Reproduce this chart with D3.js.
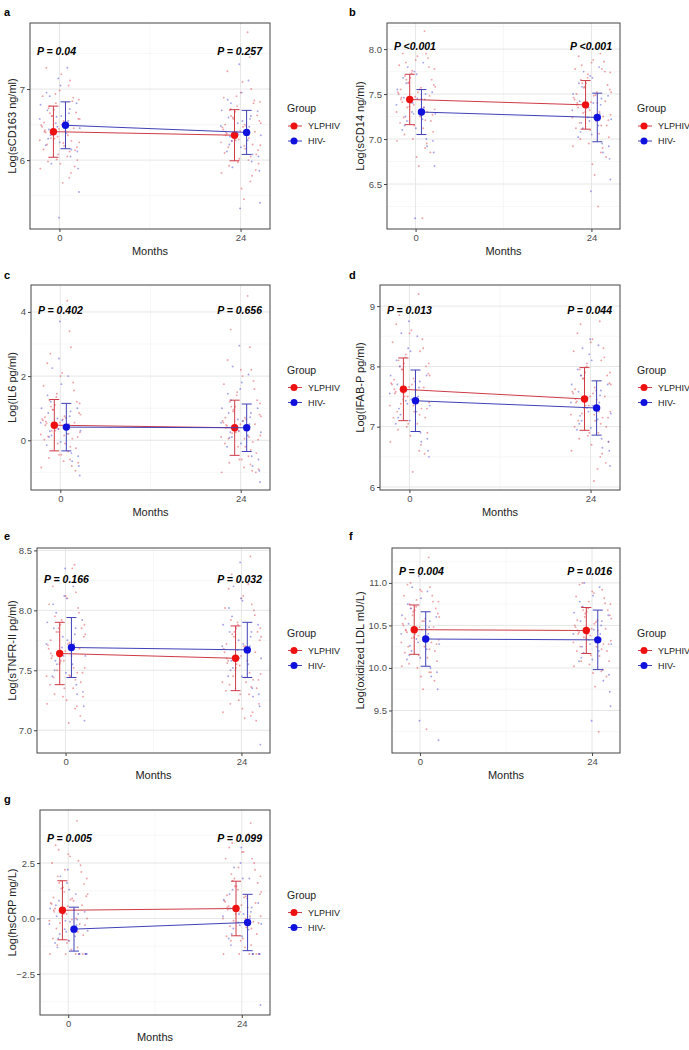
<!DOCTYPE html>
<html><head><meta charset="utf-8">
<script src="https://cdn.jsdelivr.net/npm/d3@7"></script>
<style>body{margin:0;background:#fff} svg{display:block} text{font-family:"Liberation Sans",Arial,sans-serif}</style>
</head><body>
<svg id="c" width="689" height="1050"></svg>
<script>
// ---------- data ----------
const panelLetters = ["a","b","c","d","e","f","g"];
const yTitles = ["Log(sCD163 ng/ml)","Log(sCD14 ng/ml)","Log(IL6 pg/ml)","Log(IFAB-P pg/ml)","Log(sTNFR-II pg/ml)","Log(oxidized LDL mU/L)","Log(hsCRP mg/L)"];
const months = [0, 24];
const groups = ["YLPHIV","HIV-"];
const pMonth0 = ["P = 0.04","P <0.001","P = 0.402","P = 0.013","P = 0.166","P = 0.004","P = 0.005"];
const pMonth24 = ["P = 0.257","P <0.001","P = 0.656","P = 0.044","P = 0.032","P = 0.016","P = 0.099"];
const yTicks = [[6,7],[6.5,7.0,7.5,8.0],[0,2,4],[6,7,8,9],[7.0,7.5,8.0,8.5],[9.5,10.0,10.5,11.0],[-2.5,0.0,2.5]];
const yTickFormats = ["d",".1f","d","d",".1f",".1f",".1f"];
const yRange = [[5.03,7.93],[6.0,8.29],[-1.55,4.84],[5.95,9.35],[6.81,8.52],[9.0,11.41],[-4.35,4.89]];
const meanYLPHIV = [[6.40,6.35],[7.44,7.38],[0.47,0.39],[7.62,7.46],[7.64,7.60],[10.45,10.44],[0.37,0.45]];
const sdYLPHIV   = [[0.36,0.36],[0.28,0.27],[0.80,0.86],[0.52,0.52],[0.26,0.27],[0.29,0.27],[1.33,1.23]];
const meanHIV    = [[6.49,6.39],[7.30,7.24],[0.41,0.39],[7.43,7.31],[7.69,7.67],[10.34,10.33],[-0.48,-0.18]];
const sdHIV      = [[0.33,0.31],[0.25,0.27],[0.74,0.74],[0.51,0.45],[0.25,0.23],[0.32,0.35],[0.99,1.27]];

// individual observations (approximate reading), [month 0, month 24] per panel
const obsYLPHIV = [
 [[6.40,6.12,6.71,6.25,6.55,5.98,6.88,6.33,6.47,6.05,6.62,6.18,7.21,6.39,5.82,6.93,6.28,6.51,6.76,5.91,6.44,6.15,7.05,6.36,6.58,5.68,6.22,6.83,6.01,6.49,7.48,6.31,6.67,5.95,6.42,7.12],
  [6.35,6.05,6.68,6.21,6.50,5.92,6.84,6.29,6.43,6.00,6.60,6.14,7.10,6.37,5.78,6.90,6.25,6.48,6.72,5.86,6.41,6.10,7.45,6.33,6.55,5.45,6.18,6.80,5.97,6.46,7.80,6.27,6.63,5.60,6.39,7.00]],
 [[7.44,7.21,7.68,7.33,7.55,7.05,7.80,7.38,7.50,7.12,7.62,7.27,7.92,7.41,6.95,7.73,7.30,7.57,7.85,6.85,7.47,7.18,8.20,7.36,7.60,6.70,7.24,7.90,7.00,7.52,6.12,7.35,7.66,6.80,7.46,7.95],
  [7.38,7.15,7.62,7.27,7.49,7.00,7.75,7.32,7.44,7.06,7.57,7.21,7.88,7.35,6.90,7.68,7.24,7.52,7.82,6.80,7.41,7.12,7.95,7.30,7.55,6.60,7.18,7.86,6.95,7.46,6.25,7.29,7.60,6.72,7.40,7.78]],
 [[0.47,-0.20,1.10,0.25,0.75,-0.55,1.55,0.35,0.62,-0.35,0.95,0.10,2.10,0.52,-0.80,1.35,0.18,0.70,2.70,-0.95,0.55,0.02,3.40,0.40,0.85,-0.65,0.12,1.80,-0.10,0.66,4.35,0.30,1.20,-0.45,0.58,2.90],
  [0.39,-0.30,1.05,0.15,0.70,-0.70,1.60,0.28,0.55,-0.50,0.90,0.02,2.00,0.45,-0.95,1.40,0.10,0.65,3.45,-1.00,0.50,-0.10,2.90,0.33,0.80,-0.85,0.05,1.85,-0.20,0.60,4.50,0.22,1.25,-0.60,0.48,2.20]],
 [[7.62,7.20,8.05,7.40,7.80,6.95,8.30,7.50,7.70,7.05,7.95,7.30,8.60,7.58,6.70,8.15,7.35,7.75,8.85,6.55,7.66,7.15,9.20,7.45,7.88,6.25,7.25,8.45,7.00,7.72,8.95,7.38,8.00,6.85,7.55,8.25],
  [7.46,7.05,7.90,7.25,7.65,6.80,8.15,7.35,7.55,6.90,7.80,7.15,8.45,7.42,6.55,8.00,7.20,7.60,8.70,6.40,7.50,7.00,8.75,7.30,7.72,6.10,7.10,8.30,6.85,7.58,6.30,7.22,7.85,6.70,7.40,8.10]],
 [[7.64,7.42,7.88,7.52,7.73,7.30,7.98,7.58,7.68,7.35,7.82,7.48,8.10,7.62,7.20,7.92,7.45,7.70,8.25,7.12,7.66,7.38,8.38,7.55,7.78,7.06,7.44,8.02,7.28,7.71,8.35,7.50,7.85,7.25,7.60,8.15],
  [7.60,7.36,7.85,7.47,7.70,7.22,7.96,7.54,7.65,7.30,7.78,7.42,8.12,7.58,7.15,7.90,7.40,7.67,8.30,7.08,7.62,7.33,8.45,7.50,7.75,7.10,7.38,8.00,7.25,7.68,8.22,7.45,7.82,7.18,7.56,8.05]],
 [[10.45,10.22,10.68,10.33,10.55,10.05,10.78,10.38,10.50,10.12,10.62,10.28,10.90,10.42,9.95,10.72,10.30,10.58,11.00,9.85,10.48,10.18,11.30,10.36,10.64,9.75,10.25,10.85,10.00,10.52,9.28,10.35,10.70,9.90,10.44,10.95],
  [10.44,10.22,10.66,10.32,10.54,10.08,10.76,10.38,10.48,10.14,10.60,10.28,10.88,10.42,9.98,10.70,10.30,10.56,11.00,9.90,10.46,10.20,11.15,10.35,10.62,9.78,10.25,10.82,10.04,10.50,9.25,10.36,10.68,9.94,10.40,10.92]],
 [[0.37,-0.60,1.40,0.00,0.90,-1.20,2.10,0.20,0.65,-1.60,1.70,-0.30,2.80,0.45,-1.60,1.20,-0.10,0.80,3.10,-1.60,0.55,-0.90,4.40,0.10,1.00,-1.40,-0.45,2.40,-1.60,0.70,3.60,-0.20,1.55,-1.00,0.30,2.60],
  [0.50,-0.45,1.45,0.10,1.00,-1.00,2.20,0.30,0.75,-1.60,1.80,-0.20,3.00,0.55,-1.60,1.30,0.00,0.90,3.40,-1.60,0.60,-0.80,4.30,0.20,1.10,-1.30,-0.35,2.50,-1.60,0.80,3.80,-0.10,1.60,-0.90,0.40,2.70]]
];
const obsYLPHIVmore = [
 [[6.30,6.58,6.20,6.73,6.45,6.08,6.90,6.35,6.62,6.00,6.50,7.30,6.27,6.80,5.88,6.41,6.66,6.14,6.98,6.53,5.75,6.37,6.85,6.24],
  [6.28,6.52,6.16,6.70,6.40,6.02,6.88,6.31,6.58,5.95,6.47,7.25,6.22,6.76,5.82,6.36,6.62,6.08,6.95,6.50,5.70,6.33,6.82,6.20]],
 [[7.40,7.58,7.25,7.70,7.48,7.15,7.82,7.35,7.63,7.08,7.52,7.95,7.30,7.76,6.98,7.45,7.66,7.20,7.88,7.55,6.90,7.42,7.78,7.28],
  [7.35,7.52,7.20,7.66,7.42,7.10,7.78,7.30,7.58,7.02,7.48,7.92,7.25,7.72,6.92,7.40,7.62,7.15,7.85,7.50,6.85,7.37,7.74,7.22]],
 [[0.30,0.80,-0.10,1.25,0.55,-0.45,1.70,0.20,0.95,-0.70,0.65,2.40,0.05,1.45,-0.85,0.42,1.05,-0.25,2.00,0.72,-0.60,0.38,1.15,0.15],
  [0.25,0.75,-0.20,1.20,0.50,-0.60,1.75,0.10,0.95,-0.90,0.60,2.50,-0.05,1.50,-1.00,0.35,1.05,-0.40,2.20,0.70,-0.75,0.30,1.15,0.05]],
 [[7.50,7.85,7.25,8.10,7.65,7.05,8.40,7.40,7.95,6.90,7.70,8.70,7.30,8.20,6.75,7.60,8.00,7.15,8.55,7.78,6.60,7.55,8.05,7.35],
  [7.35,7.70,7.10,7.95,7.50,6.90,8.25,7.25,7.80,6.75,7.55,8.55,7.15,8.05,6.60,7.45,7.85,7.00,8.40,7.62,6.50,7.40,7.90,7.20]],
 [[7.58,7.80,7.45,7.95,7.68,7.35,8.05,7.52,7.85,7.28,7.72,8.20,7.48,7.90,7.22,7.62,7.82,7.40,8.12,7.75,7.18,7.56,7.88,7.46],
  [7.55,7.78,7.40,7.92,7.65,7.30,8.02,7.48,7.82,7.22,7.70,8.18,7.42,7.88,7.15,7.58,7.80,7.35,8.10,7.72,7.12,7.52,7.85,7.44]],
 [[10.40,10.60,10.25,10.75,10.48,10.15,10.85,10.35,10.66,10.08,10.55,10.98,10.30,10.80,10.02,10.45,10.70,10.20,10.92,10.58,9.95,10.42,10.78,10.32],
  [10.40,10.58,10.25,10.72,10.46,10.15,10.84,10.34,10.64,10.08,10.52,10.98,10.28,10.78,10.02,10.44,10.68,10.20,10.90,10.56,9.96,10.42,10.75,10.30]],
 [[0.20,1.10,-0.50,1.90,0.60,-1.10,2.50,0.00,1.35,-1.60,0.85,3.30,-0.25,2.20,-1.60,0.40,1.60,-0.75,2.90,0.95,-1.30,0.30,1.80,-0.05],
  [0.35,1.20,-0.40,2.00,0.70,-1.00,2.70,0.10,1.45,-1.60,0.95,3.20,-0.15,2.30,-1.60,0.50,1.70,-0.70,3.00,1.05,-1.20,0.40,1.90,0.00]]
];
const obsHIV = [
 [[6.52,6.21,6.80,6.38,6.61,6.95,6.12,7.30,6.47,6.70,5.88,6.55,7.15,6.30,5.55,6.66,5.19,6.43],
  [6.40,6.12,6.69,6.28,6.52,6.85,6.05,7.12,6.36,6.60,5.85,6.47,7.35,6.22,5.40,6.58,5.32,6.33]],
 [[7.30,7.10,7.52,7.22,7.40,7.68,6.98,7.85,7.28,7.46,6.85,7.35,7.75,7.15,6.70,7.44,6.12,7.25],
  [7.24,7.02,7.48,7.15,7.35,7.62,6.92,7.80,7.20,7.42,6.78,7.28,7.70,7.08,6.55,7.38,6.42,7.18]],
 [[0.41,-0.15,1.00,0.20,0.68,1.40,-0.50,2.00,0.35,0.85,-0.80,0.50,2.55,0.10,-1.10,0.75,3.70,0.28],
  [0.39,-0.20,1.00,0.15,0.65,1.45,-0.60,2.05,0.30,0.85,-0.95,0.50,2.95,0.08,-1.30,0.72,1.60,0.25]],
 [[7.43,7.05,7.85,7.25,7.60,8.10,6.80,8.50,7.38,7.70,6.60,7.50,8.30,7.15,6.50,7.65,8.75,7.30],
  [7.31,6.95,7.70,7.12,7.48,7.95,6.75,8.35,7.25,7.58,6.60,7.40,8.20,7.05,6.35,7.52,8.45,7.18]],
 [[7.69,7.45,7.92,7.55,7.78,8.05,7.32,8.20,7.62,7.85,7.20,7.72,8.12,7.50,7.08,7.80,8.35,7.58],
  [7.67,7.45,7.88,7.55,7.75,8.02,7.30,8.25,7.60,7.82,7.20,7.70,8.40,7.50,6.88,7.78,8.10,7.58]],
 [[10.34,10.10,10.60,10.22,10.45,10.75,9.95,10.90,10.30,10.52,9.75,10.40,11.08,10.15,9.15,10.48,9.38,10.26],
  [10.33,10.08,10.62,10.20,10.45,10.78,9.92,10.95,10.28,10.55,9.72,10.40,11.10,10.12,9.55,10.50,9.38,10.25]],
 [[-0.48,-1.10,0.30,-0.80,-0.10,0.60,-1.60,1.10,-0.60,0.10,-1.60,-0.30,1.60,-1.30,-1.60,-0.05,2.20,-0.90],
  [-0.18,-0.90,0.70,-0.50,0.20,1.10,-1.60,1.80,-0.30,0.45,-1.60,0.00,2.50,-1.20,-3.90,0.30,3.20,-0.70]]
];
const obsHIVmore = [
 [[6.45,6.72,6.25,6.90,6.58,6.05,7.05,6.35,6.78,6.15,6.62,5.95],
  [6.35,6.62,6.18,6.80,6.48,5.98,6.95,6.27,6.70,6.08,6.55,5.90]],
 [[7.28,7.50,7.12,7.62,7.38,7.00,7.72,7.20,7.55,6.92,7.45,7.80],
  [7.22,7.45,7.05,7.58,7.32,6.95,7.68,7.12,7.50,6.85,7.40,7.75]],
 [[0.30,0.90,-0.05,1.20,0.55,-0.40,1.75,0.15,1.00,-0.65,0.62,2.25],
  [0.25,0.85,-0.10,1.25,0.55,-0.50,1.80,0.10,1.00,-0.80,0.60,2.30]],
 [[7.35,7.75,7.10,8.00,7.55,6.90,8.25,7.20,7.85,6.75,7.45,8.55],
  [7.22,7.60,6.98,7.85,7.40,6.80,8.10,7.10,7.70,6.65,7.35,8.30]],
 [[7.62,7.85,7.48,7.98,7.72,7.38,8.10,7.55,7.90,7.30,7.75,8.25],
  [7.60,7.82,7.45,7.95,7.70,7.35,8.08,7.52,7.88,7.28,7.72,8.20]],
 [[10.28,10.55,10.12,10.70,10.40,10.00,10.82,10.20,10.62,9.90,10.45,10.95],
  [10.28,10.55,10.10,10.72,10.40,9.98,10.85,10.18,10.65,9.85,10.45,11.00]],
 [[-0.55,0.20,-1.00,0.80,-0.25,-1.60,1.30,-0.70,0.45,-1.60,-0.15,1.90],
  [-0.25,0.50,-0.80,1.30,0.10,-1.60,1.80,-0.45,0.85,-1.60,0.20,2.30]]
];

// ---------- layout ----------
const boxes = [
  {x0:30, x1:270, y0:23, y1:229, col:0},
  {x0:387,x1:620, y0:23, y1:229, col:1},
  {x0:31, x1:270, y0:285,y1:490, col:0},
  {x0:380,x1:620, y0:285,y1:490, col:1},
  {x0:37, x1:270, y0:548,y1:753, col:0},
  {x0:392,x1:620, y0:548,y1:753, col:1},
  {x0:40, x1:270, y0:810,y1:1015,col:0}
];
const pOffsetY = [28,23,25,25,31,23,28];
const letterY = [16,16,279,279,540,540,803];
const colX = [4, 349];
const yTitleX = [12, 360];
const legendX = [287, 637];

const redDot = "#ee1111", blueDot = "#1111dd";
const redLine = "#cf3a46", blueLine = "#4040b8";
const redPt = "#e0444c", bluePt = "#4a4ad8";
const dodge = 0.8, jitterW = 2.7;

const svg = d3.select("#c");

panelLetters.forEach((L, p) => {
  const b = boxes[p];
  const g = svg.append("g");
  const x = d3.scaleLinear().domain([-3.9, 27.9]).range([b.x0, b.x1]);
  const y = d3.scaleLinear().domain(yRange[p]).range([b.y1, b.y0]);
  const tk = yTicks[p];
  const step = tk[1] - tk[0];
  const minors = [];
  for (let v = tk[0] - step/2; v <= yRange[p][1]; v += step) if (v >= yRange[p][0]) minors.push(v);

  // background grid
  const grid = g.append("g");
  grid.selectAll("line.ymin").data(minors).join("line")
    .attr("x1", b.x0).attr("x2", b.x1).attr("y1", d => y(d)).attr("y2", d => y(d))
    .attr("stroke", "#f1f1f1").attr("stroke-width", 0.6);
  grid.selectAll("line.xmin").data([12]).join("line")
    .attr("x1", d => x(d)).attr("x2", d => x(d)).attr("y1", b.y0).attr("y2", b.y1)
    .attr("stroke", "#f1f1f1").attr("stroke-width", 0.6);
  grid.selectAll("line.ymaj").data(tk).join("line")
    .attr("x1", b.x0).attr("x2", b.x1).attr("y1", d => y(d)).attr("y2", d => y(d))
    .attr("stroke", "#e6e6e6").attr("stroke-width", 1);
  grid.selectAll("line.xmaj").data(months).join("line")
    .attr("x1", d => x(d)).attr("x2", d => x(d)).attr("y1", b.y0).attr("y2", b.y1)
    .attr("stroke", "#e6e6e6").attr("stroke-width", 1);

  // jittered observations
  const pts = [];
  months.forEach((m, mi) => {
    obsYLPHIV[p][mi].concat(obsYLPHIVmore[p][mi]).forEach((v, i) =>
      pts.push({x: m + (((i * 0.6180339887 + 0.13) % 1) - 0.5) * 2 * jitterW, y: v, c: redPt}));
    obsHIV[p][mi].concat(obsHIVmore[p][mi]).forEach((v, i) =>
      pts.push({x: m + (((i * 0.7548776662 + 0.41) % 1) - 0.5) * 2 * jitterW, y: v, c: bluePt}));
  });
  g.append("g").selectAll("circle").data(pts).join("circle")
    .attr("cx", d => x(d.x)).attr("cy", d => y(d.y)).attr("r", 0.95)
    .attr("fill", d => d.c).attr("fill-opacity", 0.5);

  // means, lines, error bars
  const series = [
    {mean: meanYLPHIV[p], sd: sdYLPHIV[p], off: -dodge, line: redLine, dot: redDot},
    {mean: meanHIV[p], sd: sdHIV[p], off: dodge, line: blueLine, dot: blueDot}
  ];
  series.forEach(s => {
    const rows = months.map((m, mi) => ({x: m + s.off, m: s.mean[mi], lo: s.mean[mi] - s.sd[mi], hi: s.mean[mi] + s.sd[mi]}));
    g.append("path").datum(rows)
      .attr("d", d3.line().x(d => x(d.x)).y(d => y(d.m)))
      .attr("fill", "none").attr("stroke", s.line).attr("stroke-width", 1);
    const eb = g.append("g").attr("stroke", s.line).attr("stroke-width", 1).attr("fill", "none");
    rows.forEach(r => {
      eb.append("line").attr("x1", x(r.x)).attr("x2", x(r.x)).attr("y1", y(r.lo)).attr("y2", y(r.hi));
      eb.append("line").attr("x1", x(r.x) - 5).attr("x2", x(r.x) + 5).attr("y1", y(r.lo)).attr("y2", y(r.lo));
      eb.append("line").attr("x1", x(r.x) - 5).attr("x2", x(r.x) + 5).attr("y1", y(r.hi)).attr("y2", y(r.hi));
    });
    g.append("g").selectAll("circle").data(rows).join("circle")
      .attr("cx", d => x(d.x)).attr("cy", d => y(d.m)).attr("r", 3.7).attr("fill", s.dot);
  });

  // border
  g.append("rect").attr("x", b.x0).attr("y", b.y0).attr("width", b.x1 - b.x0).attr("height", b.y1 - b.y0)
    .attr("fill", "none").attr("stroke", "#444").attr("stroke-width", 1);

  // axes
  const ya = g.append("g").attr("transform", `translate(${b.x0},0)`)
    .call(d3.axisLeft(y).tickValues(tk).tickFormat(d3.format(yTickFormats[p])).tickSize(3).tickPadding(2));
  const xa = g.append("g").attr("transform", `translate(0,${b.y1})`)
    .call(d3.axisBottom(x).tickValues(months).tickFormat(d3.format("d")).tickSize(3).tickPadding(2));
  [ya, xa].forEach(a => {
    a.select(".domain").remove();
    a.selectAll(".tick line").attr("stroke", "#444");
    a.selectAll(".tick text").attr("fill", "#4d4d4d").style("font-size", "9.5px").style("font-family", "Liberation Sans, Arial, sans-serif");
  });

  // titles
  g.append("text").attr("x", (b.x0 + b.x1) / 2).attr("y", b.y1 + 26).attr("text-anchor", "middle")
    .style("font-size", "11px").attr("fill", "#222").text("Months");
  const cy = (b.y0 + b.y1) / 2;
  g.append("text").attr("transform", `translate(${yTitleX[b.col] + 4},${cy}) rotate(-90)`).attr("text-anchor", "middle")
    .style("font-size", "11px").attr("fill", "#222").text(yTitles[p]);
  g.append("text").attr("x", colX[b.col]).attr("y", letterY[p]).style("font-size", "11px").style("font-weight", "bold").text(L);

  // P values
  g.append("text").attr("x", b.x0 + 7).attr("y", b.y0 + pOffsetY[p] + 4)
    .style("font-size", "10.5px").style("font-weight", "bold").style("font-style", "italic").text(pMonth0[p]);
  g.append("text").attr("x", b.x1 - 8).attr("y", b.y0 + pOffsetY[p] + 4).attr("text-anchor", "end")
    .style("font-size", "10.5px").style("font-weight", "bold").style("font-style", "italic").text(pMonth24[p]);

  // legend
  const lx = legendX[b.col];
  const lg = g.append("g");
  lg.append("text").attr("x", lx).attr("y", cy - 14).style("font-size", "10.5px").attr("fill", "#222").text("Group");
  groups.forEach((gn, i) => {
    const ky = cy + i * 15;
    const col = i === 0 ? redDot : blueDot, lc = i === 0 ? redLine : blueLine;
    lg.append("line").attr("x1", lx + 1).attr("x2", lx + 15).attr("y1", ky).attr("y2", ky).attr("stroke", lc).attr("stroke-width", 1);
    lg.append("circle").attr("cx", lx + 7).attr("cy", ky).attr("r", 3.5).attr("fill", col);
    lg.append("text").attr("x", lx + 21).attr("y", ky + 3.3).style("font-size", "9px").attr("fill", "#222").text(gn);
  });
});
</script>
</body></html>
